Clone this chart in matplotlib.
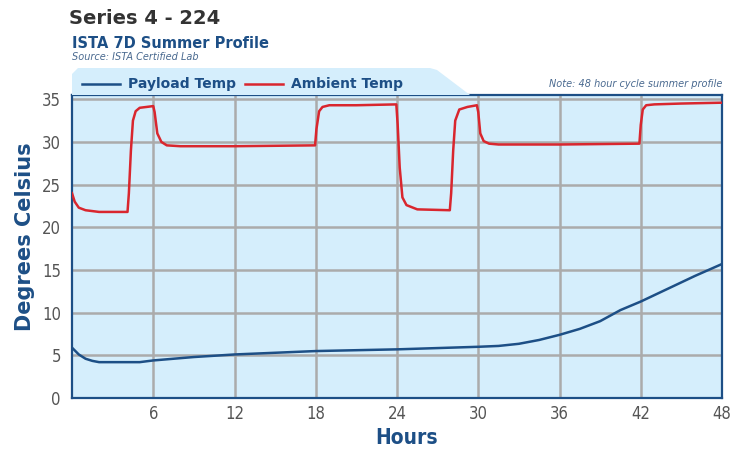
import matplotlib
matplotlib.use("Agg")
import matplotlib.pyplot as plt
from matplotlib.patches import Polygon

# Ambient chamber temperature
amb_hours = [0, 0.2, 0.5, 1.0, 2, 3, 4.1, 4.2, 4.35, 4.5, 4.7, 5.0, 5.5, 6.0, 6.1, 6.3, 6.6, 7.0, 8,
             12, 17.95, 18.05, 18.25, 18.5, 19, 21, 23.95, 24.05, 24.2, 24.4, 24.7, 25.5, 27.9, 28.0,
             28.15, 28.3, 28.6, 29.2, 29.9, 30.0, 30.15, 30.4, 30.8, 31.5, 36, 41.9, 42.0, 42.15, 42.4,
             43, 45, 48]
amb_temp = [24.0, 23.0, 22.3, 22.0, 21.8, 21.8, 21.8, 24.0, 29.0, 32.5, 33.6, 34.0, 34.1, 34.2, 33.5,
            31.0, 30.0, 29.6, 29.5, 29.5, 29.6, 31.5, 33.6, 34.1, 34.3, 34.3, 34.4, 32.0, 27.0, 23.5,
            22.6, 22.1, 22.0, 24.0, 29.0, 32.5, 33.8, 34.1, 34.3, 33.5, 31.0, 30.1, 29.8, 29.7, 29.7,
            29.8, 32.0, 33.8, 34.3, 34.4, 34.5, 34.6]

# Payload temperature
pay_hours = [0, 0.5, 1, 1.5, 2, 3, 5, 6, 9, 12, 15, 18, 21, 24, 27, 30, 31.5, 33, 34.5, 36, 37.5,
             39, 40.5, 42, 44, 46, 48]
pay_temp = [5.9, 5.1, 4.6, 4.35, 4.2, 4.2, 4.2, 4.4, 4.8, 5.1, 5.3, 5.5, 5.6, 5.7, 5.85, 6.0, 6.1,
            6.35, 6.8, 7.4, 8.1, 9.0, 10.3, 11.3, 12.8, 14.3, 15.7]

x_ticks = [6, 12, 18, 24, 30, 36, 42, 48]
y_ticks = [0, 5, 10, 15, 20, 25, 30, 35]

W, H = 742, 449
navy = "#1d4f86"
red = "#d9262e"
bg = "#d5eefc"
cond = dict(family="DejaVu Sans", stretch="condensed")

fig = plt.figure(figsize=(W / 100, H / 100), dpi=100)
ax = fig.add_axes([72 / W, 1 - 398 / H, 650 / W, 303 / H])
ax.set_facecolor(bg)

# legend tab behind the plot
tab = [(72, 95), (72, 74), (78, 68), (430, 68), (437, 70), (470, 95)]
fig.patches.append(Polygon([(x / W, 1 - y / H) for x, y in tab], closed=True,
                           transform=fig.transFigure, facecolor=bg, edgecolor="none", zorder=0))

ax.plot(pay_hours, pay_temp, color=navy, lw=1.8, zorder=3)
ax.plot(amb_hours, amb_temp, color=red, lw=1.8, zorder=3)

ax.set_xlim(0, 48)
ax.set_ylim(0, 35.5)
ax.set_xticks(x_ticks)
ax.set_yticks(y_ticks)
ax.grid(True, color="#ababab", lw=1.8)
ax.set_axisbelow(True)
ax.tick_params(length=0, labelcolor="#555555")
ax.tick_params(axis="x", pad=5)
ax.tick_params(axis="y", pad=8)
for lab in ax.get_xticklabels() + ax.get_yticklabels():
    lab.set_fontsize(12)
    lab.set_fontstretch("condensed")
for s in ax.spines.values():
    s.set_color(navy)
    s.set_linewidth(1.6)

fig.text(407 / W, 1 - 438 / H, "Hours", fontsize=15, fontweight="bold", color=navy,
         ha="center", va="center", **cond)
fig.text(25 / W, 1 - 237 / H, "Degrees Celsius", fontsize=15, fontweight="bold", color=navy,
         ha="center", va="center", rotation=90)

# titles
fig.text(69 / W, 1 - 18 / H, "Series 4 - 224", fontsize=14, fontweight="bold", color="#333333",
         va="center")
fig.text(72 / W, 1 - 43 / H, "ISTA 7D Summer Profile", fontsize=10.5, fontweight="bold", color=navy,
         va="center")
fig.text(72 / W, 1 - 57 / H, "Source: ISTA Certified Lab", fontsize=7, style="italic",
         color="#4a6a90", va="center")
fig.text(722 / W, 1 - 84 / H, "Note: 48 hour cycle summer profile", fontsize=7, style="italic",
         color="#4a6a90", va="center", ha="right")

# legend entries drawn in the tab
fig.add_artist(plt.Line2D([82 / W, 120 / W], [1 - 84 / H] * 2, color=navy, lw=1.8))
fig.text(128 / W, 1 - 84 / H, "Payload Temp", fontsize=10, fontweight="bold", color=navy,
         va="center")
fig.add_artist(plt.Line2D([245 / W, 283 / W], [1 - 84 / H] * 2, color=red, lw=1.8))
fig.text(291 / W, 1 - 84 / H, "Ambient Temp", fontsize=10, fontweight="bold", color=navy,
         va="center")

fig.savefig("out.png", dpi=100)
